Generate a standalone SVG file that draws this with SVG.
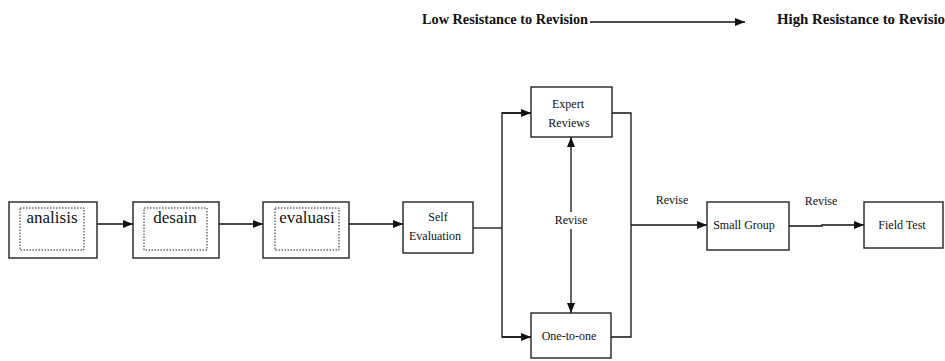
<svg xmlns="http://www.w3.org/2000/svg" width="945" height="361" viewBox="0 0 945 361">
<style>
.box{fill:#fff;stroke:#222;stroke-width:1.4}
.inner{fill:none;stroke:#222;stroke-width:1;stroke-dasharray:1.5 1.5}
.t{font-family:"Liberation Serif","Times New Roman",serif;font-size:12px;fill:#111;text-anchor:middle}
.big{font-family:"Liberation Serif","Times New Roman",serif;font-size:17px;fill:#111;text-anchor:middle}
.hdr{font-family:"Liberation Serif","Times New Roman",serif;font-size:14px;font-weight:bold;fill:#111}
.c{fill:none;stroke:#111;stroke-width:1.3}
</style>
<defs>
<marker id="ah" markerWidth="10" markerHeight="8" refX="10" refY="4" orient="auto" markerUnits="userSpaceOnUse">
<path d="M0,0 L10,4 L0,8 Z" fill="#111"/>
</marker>
<marker id="ahs" markerWidth="10" markerHeight="8" refX="0" refY="4" orient="auto" markerUnits="userSpaceOnUse">
<path d="M10,0 L0,4 L10,8 Z" fill="#111"/>
</marker>
</defs>

<g id="header">
<text class="hdr" x="422" y="24" textLength="166" lengthAdjust="spacingAndGlyphs">Low Resistance to Revision</text>
<text class="hdr" x="777" y="24" textLength="168" lengthAdjust="spacingAndGlyphs">High Resistance to Revisio</text>
</g>

<g id="connectors">
<line class="c" x1="590" y1="22" x2="745" y2="22" marker-end="url(#ah)"/>
<line class="c" x1="97" y1="224" x2="133" y2="224" marker-end="url(#ah)"/>
<line class="c" x1="219" y1="224" x2="263" y2="224" marker-end="url(#ah)"/>
<line class="c" x1="349" y1="224" x2="403" y2="224" marker-end="url(#ah)"/>
<polyline class="c" points="473,228 502,228"/>
<polyline class="c" points="531,113 502,113 502,337 531,337"/>
<line class="c" x1="502" y1="113" x2="531" y2="113" marker-end="url(#ah)"/>
<line class="c" x1="502" y1="337" x2="531" y2="337" marker-end="url(#ah)"/>
<line class="c" x1="571" y1="137" x2="571" y2="212" marker-start="url(#ahs)"/>
<line class="c" x1="571" y1="229" x2="571" y2="313" marker-end="url(#ah)"/>
<polyline class="c" points="612,113 631,113 631,337 611,337"/>
<line class="c" x1="631" y1="225" x2="707" y2="225" marker-end="url(#ah)"/>
<polyline class="c" points="789,226 822,226 822,225 864,225" marker-end="url(#ah)"/>
<text class="t" x="571" y="224">Revise</text>
<text class="t" x="672" y="204">Revise</text>
<text class="t" x="821" y="205">Revise</text>
</g>

<g id="analisis">
<rect class="box" x="9" y="202" width="88" height="56"/>
<rect class="inner" x="20" y="208" width="64" height="42"/>
<text class="big" x="52" y="223">analisis</text>
</g>
<g id="desain">
<rect class="box" x="133" y="202" width="86" height="56"/>
<rect class="inner" x="144" y="208" width="63" height="42"/>
<text class="big" x="175" y="223">desain</text>
</g>
<g id="evaluasi">
<rect class="box" x="263" y="202" width="86" height="56"/>
<rect class="inner" x="275" y="208" width="64" height="42"/>
<text class="big" x="307" y="223">evaluasi</text>
</g>
<g id="self-evaluation">
<rect class="box" x="403" y="202" width="70" height="51"/>
<text class="t" x="438" y="221">Self</text>
<text class="t" x="435" y="240">Evaluation</text>
</g>
<g id="expert-reviews">
<rect class="box" x="531" y="87" width="81" height="50"/>
<text class="t" x="568" y="108">Expert</text>
<text class="t" x="569" y="127">Reviews</text>
</g>
<g id="one-to-one">
<rect class="box" x="531" y="313" width="80" height="45"/>
<text class="t" x="569" y="340">One-to-one</text>
</g>
<g id="small-group">
<rect class="box" x="707" y="202" width="82" height="48"/>
<text class="t" x="744" y="229">Small Group</text>
</g>
<g id="field-test">
<rect class="box" x="864" y="202" width="79" height="46"/>
<text class="t" x="902" y="229">Field Test</text>
</g>
</svg>
